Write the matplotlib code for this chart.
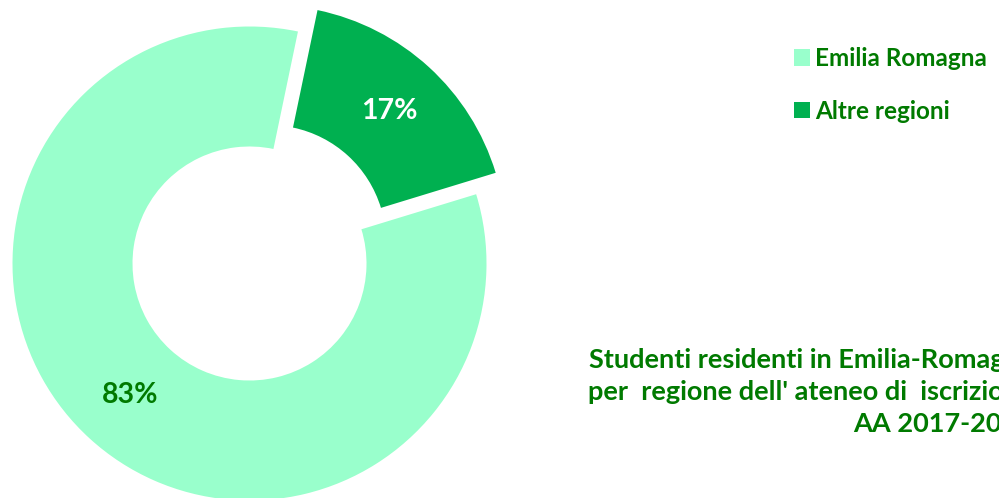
import matplotlib
matplotlib.use("Agg")
import matplotlib.pyplot as plt

categories = ["Emilia Romagna", "Altre regioni"]
values = [83, 17]
colors = ["#99FFCC", "#00B050"]
label_colors = ["#007A00", "#FFFFFF"]
title_text = "Studenti residenti in Emilia-Romagna\nper  regione dell' ateneo di  iscrizione\nAA 2017-2018"
text_green = "#007A00"

plt.rcParams['font.family'] = ['Lato', 'DejaVu Sans']
W, H = 999, 498
fig = plt.figure(figsize=(W / 100, H / 100), dpi=100)
ax = fig.add_axes([0, 0, 1, 1])

cx, cy = 249.5, H - 263.5
R = 237
wedges, texts, autotexts = ax.pie(
    values, colors=colors, startangle=17, counterclock=False,
    center=(cx, cy), radius=R, explode=[0, 29],
    wedgeprops=dict(width=120, linewidth=0),
    autopct='%.0f%%', pctdistance=0.75,
    textprops=dict(fontsize=20.5, fontweight='bold'))
for t, c in zip(autotexts, label_colors):
    t.set_color(c)

ax.set_xlim(0, W)
ax.set_ylim(0, H)
ax.set_aspect('auto')
ax.axis('off')

leg = ax.legend(wedges, categories, loc='upper left',
                bbox_to_anchor=(794 / W, 1 - 47 / H), frameon=False,
                prop=dict(family=['Lato', 'DejaVu Sans'], weight='bold', size=17.5),
                handlelength=0.66, handleheight=0.66, handletextpad=0.2,
                labelspacing=1.22, borderpad=0, borderaxespad=0)
for t in leg.get_texts():
    t.set_color(text_green)

ax.text(588, H - 392, title_text, ha='left', va='center', multialignment='right',
        fontsize=19.5, fontweight='bold', color=text_green, linespacing=1.38)

fig.savefig('out.png', dpi=100)
